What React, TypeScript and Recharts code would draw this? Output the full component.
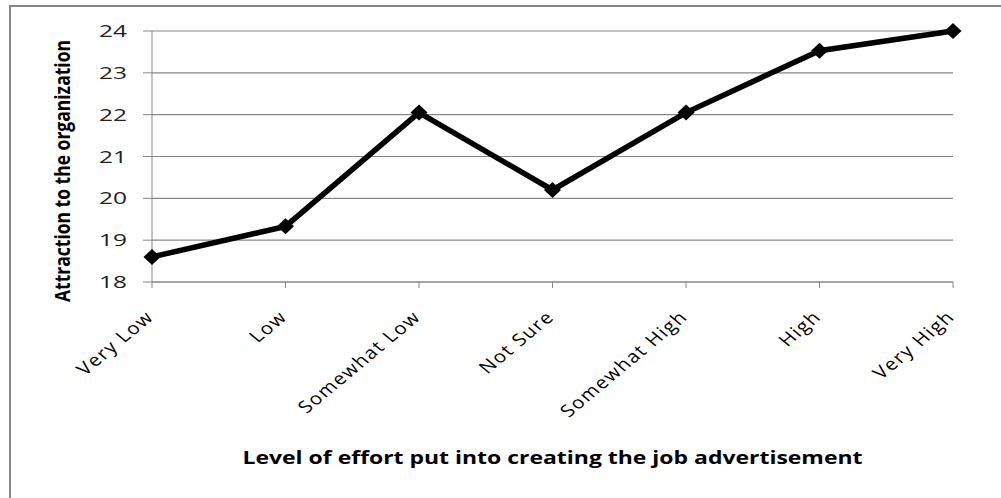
import { LineChart, Line, XAxis, YAxis, CartesianGrid, Label } from 'recharts'

// Effort levels on the category axis
const levels = [
  'Very Low',
  'Low',
  'Somewhat Low',
  'Not Sure',
  'Somewhat High',
  'High',
  'Very High',
]

// Mean attraction score for each level
const attraction = [18.6, 19.33, 22.05, 20.2, 22.05, 23.53, 24.0]

const yTicks = [18, 19, 20, 21, 22, 23, 24]

const xTitle = 'Level of effort put into creating the job advertisement'
const yTitle = 'Attraction to the organization'

const data = levels.map((level, i) => ({ level, value: attraction[i] }))

const FONT = '"Open Sans", "DejaVu Sans", sans-serif'
const GRAY = '#878787'

// the source picture is stretched sideways, so text gets scale(1.2,1)
const XTick = (props: any) => {
  const { x, payload } = props
  return (
    <g transform={`translate(${x + 3},318) scale(1.2,1) rotate(-45)`}>
      <text textAnchor="end" fontFamily={FONT} fontSize={17} letterSpacing={1.3} fill="#000">
        {payload.value}
      </text>
    </g>
  )
}

const YTick = (props: any) => {
  const { x, y, payload } = props
  return (
    <text
      x={x}
      y={y + 6}
      textAnchor="end"
      fontFamily={FONT}
      fontSize={16.5}
      fill="#222"
      textLength={28}
      lengthAdjust="spacingAndGlyphs"
    >
      {payload.value}
    </text>
  )
}

const Diamond = (props: any) => {
  const { cx, cy } = props
  if (cx == null || cy == null) return null
  return (
    <polygon
      points={`${cx - 8.5},${cy} ${cx},${cy - 8} ${cx + 8.5},${cy} ${cx},${cy + 8}`}
      fill="#000"
    />
  )
}

const XTitle = (props: any) => {
  const { viewBox } = props
  const cx = viewBox.x + viewBox.width / 2
  return (
    <text
      x={cx}
      y={464}
      textAnchor="middle"
      fontFamily={FONT}
      fontWeight="bold"
      fontSize={17}
      fill="#000"
      textLength={620}
      lengthAdjust="spacingAndGlyphs"
    >
      {xTitle}
    </text>
  )
}

const YTitle = () => (
  <g transform="translate(70,171) scale(1.2,1) rotate(-90)">
    <text
      textAnchor="middle"
      fontFamily={FONT}
      fontWeight="bold"
      fontSize={18}
      fill="#000"
      textLength={262}
      lengthAdjust="spacingAndGlyphs"
    >
      {yTitle}
    </text>
  </g>
)

export default function App() {
  return (
    <div style={{ position: 'absolute', left: 0, top: 0, width: 1001, height: 498, background: '#fff' }}>
      {/* chart frame: only the top and left edges show in the source */}
      <div
        style={{
          position: 'absolute',
          left: 9,
          top: 5,
          right: 0,
          bottom: 0,
          borderTop: `2px solid ${GRAY}`,
          borderLeft: `2px solid ${GRAY}`,
        }}
      />
      <LineChart
        width={1001}
        height={498}
        data={data}
        margin={{ top: 31, right: 48, left: 0, bottom: 0 }}
        style={{ position: 'absolute', left: 0, top: 0 }}
      >
        <CartesianGrid vertical={false} stroke={GRAY} strokeWidth={1.2} />
        <XAxis
          dataKey="level"
          height={216}
          interval={0}
          stroke={GRAY}
          tickSize={6}
          tick={<XTick />}
        >
          <Label content={<XTitle />} />
        </XAxis>
        <YAxis
          width={152}
          domain={[18, 24]}
          ticks={yTicks}
          interval={0}
          stroke={GRAY}
          tickSize={9}
          tickMargin={16}
          tick={<YTick />}
        >
          <Label content={<YTitle />} />
        </YAxis>
        <Line
          type="linear"
          dataKey="value"
          stroke="#000"
          strokeWidth={5.5}
          dot={<Diamond />}
          activeDot={false}
          isAnimationActive={false}
        />
      </LineChart>
    </div>
  )
}
